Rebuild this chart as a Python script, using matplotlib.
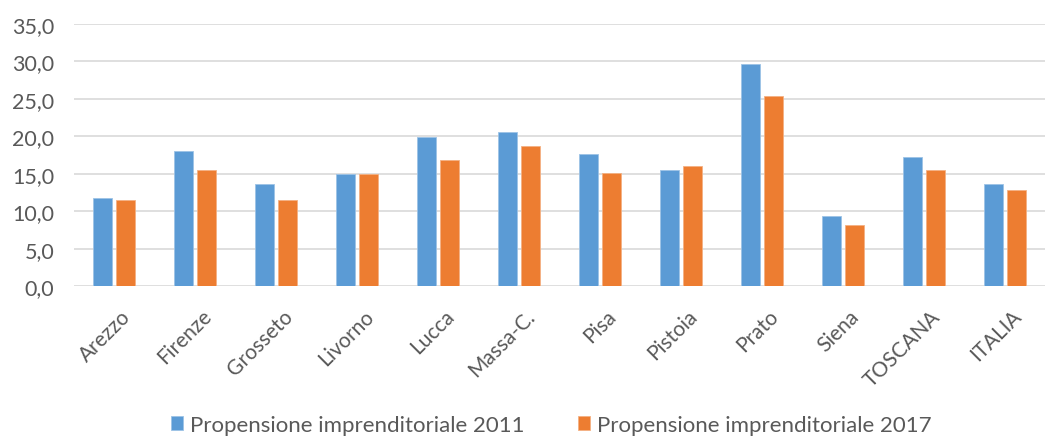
import numpy as np
import matplotlib.pyplot as plt
import matplotlib.transforms as mtrans

province = ['Arezzo', 'Firenze', 'Grosseto', 'Livorno', 'Lucca', 'Massa-C.',
            'Pisa', 'Pistoia', 'Prato', 'Siena', 'TOSCANA', 'ITALIA']
valori_2011 = [11.7, 18.0, 13.6, 15.0, 19.9, 20.6, 17.7, 15.5, 29.6, 9.3, 17.3, 13.6]
valori_2017 = [11.5, 15.5, 11.5, 15.0, 16.8, 18.7, 15.1, 16.1, 25.4, 8.1, 15.5, 12.9]
serie = ['Propensione imprenditoriale 2011', 'Propensione imprenditoriale 2017']
yticks = [0, 5, 10, 15, 20, 25, 30, 35]

plt.rcParams['font.family'] = ['Lato', 'DejaVu Sans']
grigio = '#595959'

fig = plt.figure(figsize=(10.56, 4.39), dpi=100)
ax = fig.add_axes([0.070, 0.346, 0.920, 0.597])

x = np.arange(len(province))
w = 0.235
ax.bar(x - w / 2 - 0.025, valori_2011, w, color='#5B9BD5', edgecolor='#9DC3E6',
       linewidth=0.6, label=serie[0], zorder=3)
ax.bar(x + w / 2 + 0.025, valori_2017, w, color='#ED7D31', edgecolor='#F4B183',
       linewidth=0.6, label=serie[1], zorder=3)

ax.set_xlim(-0.5, len(province) - 0.5)
ax.set_ylim(0, 35)
ax.set_yticks(yticks)
ax.set_yticklabels([f'{v:.1f}'.replace('.', ',') for v in yticks], fontsize=15.5, color=grigio)
ax.set_xticks(x)
ax.set_xticklabels(province, rotation=45, ha='right', rotation_mode='anchor',
                   fontsize=15, color=grigio)
ax.tick_params(length=0)
ax.tick_params(axis='y', pad=14)
ax.tick_params(axis='x', pad=14)
# sposta un po' a destra le etichette ruotate
off = mtrans.ScaledTranslation(6 / 100, 0, fig.dpi_scale_trans)
for lab in ax.get_xticklabels():
    lab.set_transform(lab.get_transform() + off)
ax.grid(axis='y', color='#D9D9D9', linewidth=1.2, zorder=0)
for s in ax.spines.values():
    s.set_visible(False)

fig.legend(loc='center', bbox_to_anchor=(0.522, 0.03), ncol=2, frameon=False,
           fontsize=16, labelcolor=grigio, handlelength=0.55, handleheight=0.55,
           handletextpad=0.3, columnspacing=2.4)

fig.savefig('out.png', dpi=100)
